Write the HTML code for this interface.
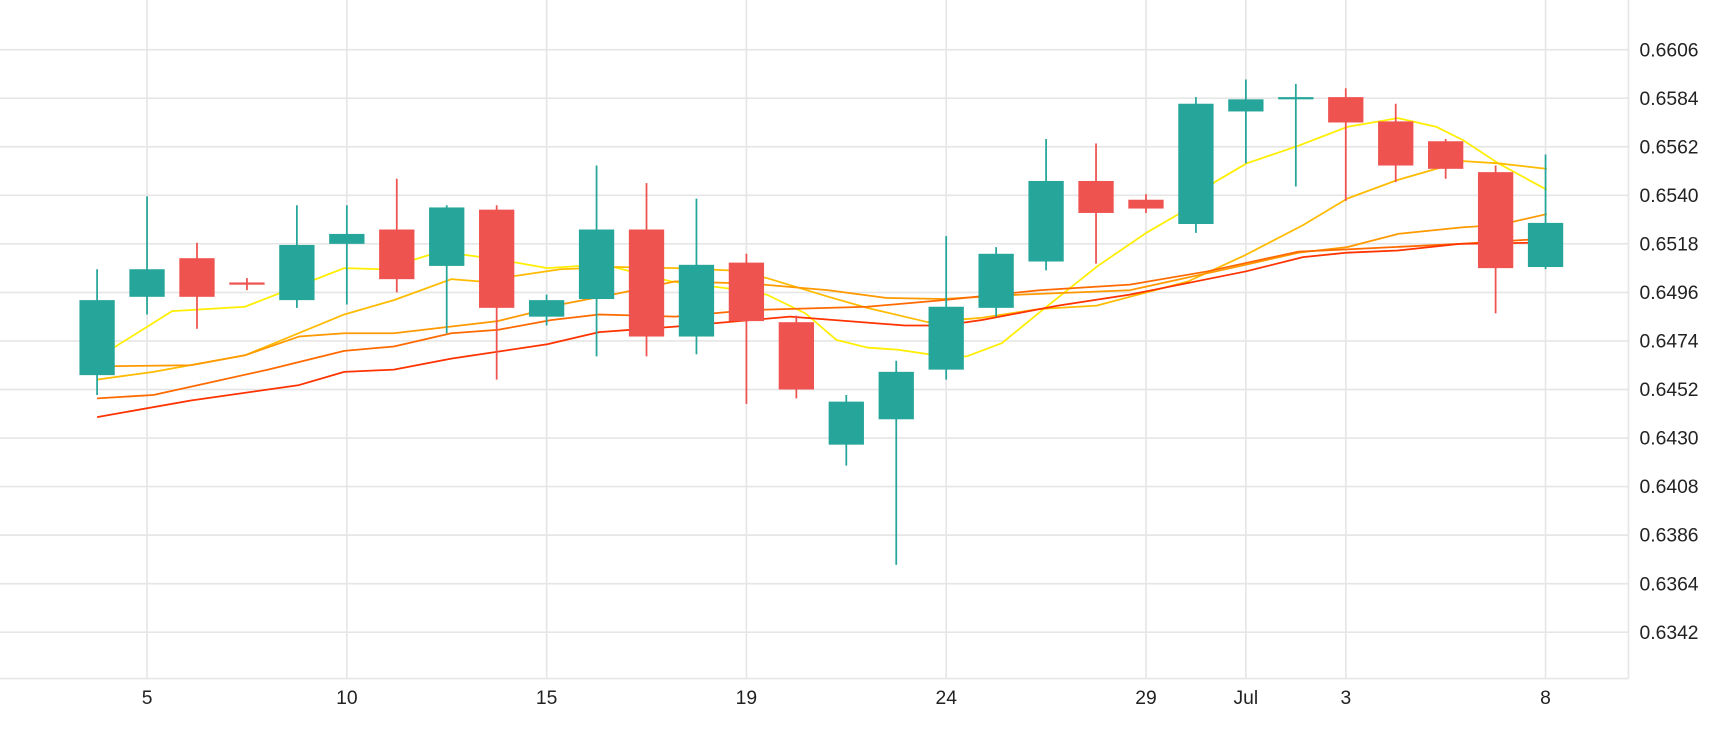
<!DOCTYPE html>
<html><head><meta charset="utf-8"><style>
html,body{margin:0;padding:0;background:#fff;}
svg{display:block;}
text{font-family:"Liberation Sans",sans-serif;fill:#222;}
</style></head><body>
<svg width="1730" height="730" viewBox="0 0 1568 661.6" xmlns="http://www.w3.org/2000/svg">
<rect width="1568" height="661.6" fill="#fff"/>
<g stroke="#e6e6e6" stroke-width="1.5">
<line x1="0" y1="45" x2="1476" y2="45"/><line x1="0" y1="89" x2="1476" y2="89"/><line x1="0" y1="133" x2="1476" y2="133"/><line x1="0" y1="177" x2="1476" y2="177"/><line x1="0" y1="221" x2="1476" y2="221"/><line x1="0" y1="265" x2="1476" y2="265"/><line x1="0" y1="309" x2="1476" y2="309"/><line x1="0" y1="353" x2="1476" y2="353"/><line x1="0" y1="397" x2="1476" y2="397"/><line x1="0" y1="441" x2="1476" y2="441"/><line x1="0" y1="485" x2="1476" y2="485"/><line x1="0" y1="529" x2="1476" y2="529"/><line x1="0" y1="573" x2="1476" y2="573"/>
<line x1="0" y1="615" x2="1476" y2="615"/>
<line x1="1476" y1="0" x2="1476" y2="615"/>
<line x1="133.3" y1="0" x2="133.3" y2="615"/><line x1="314.4" y1="0" x2="314.4" y2="615"/><line x1="495.4" y1="0" x2="495.4" y2="615"/><line x1="676.5" y1="0" x2="676.5" y2="615"/><line x1="857.6" y1="0" x2="857.6" y2="615"/><line x1="1038.7" y1="0" x2="1038.7" y2="615"/><line x1="1129.2" y1="0" x2="1129.2" y2="615"/><line x1="1219.8" y1="0" x2="1219.8" y2="615"/><line x1="1400.8" y1="0" x2="1400.8" y2="615"/>
</g>
<g font-size="17.5">
<text x="1486" y="51">0.6606</text><text x="1486" y="95">0.6584</text><text x="1486" y="139">0.6562</text><text x="1486" y="183">0.6540</text><text x="1486" y="227">0.6518</text><text x="1486" y="271">0.6496</text><text x="1486" y="315">0.6474</text><text x="1486" y="359">0.6452</text><text x="1486" y="403">0.6430</text><text x="1486" y="447">0.6408</text><text x="1486" y="491">0.6386</text><text x="1486" y="535">0.6364</text><text x="1486" y="579">0.6342</text>
</g>
<g font-size="17.5" text-anchor="middle">
<text x="133.3" y="638">5</text><text x="314.4" y="638">10</text><text x="495.4" y="638">15</text><text x="676.5" y="638">19</text><text x="857.6" y="638">24</text><text x="1038.7" y="638">29</text><text x="1129.2" y="638">Jul</text><text x="1219.8" y="638">3</text><text x="1400.8" y="638">8</text>
</g>
<g fill="none" stroke-width="1.6" stroke-linejoin="round">
<polyline stroke="#FFEE00" points="88,320 100,317 156,282 222,278 312,243 347,244 399,228 451,235 496,243 527,241 556,242 608,255 657,261 695,267 730,284 758,308 786,315 814,317 855,323 876,323 908,311 946,280 995,241 1039,211 1070,193 1101,165 1130,148 1177,132 1221,115 1267,107 1302,115 1326,127 1358,148 1402,172"/>
<polyline stroke="#FFBB00" points="88,344 139,337 222,322 312,285 357,272 409,253 434,255 508,244 560,242 612,243 661,245 695,252 751,269 786,279 841,292 890,288 942,280 994,277 1024,269 1077,255 1129,231 1181,204 1221,180 1267,163 1326,146 1358,148 1402,153"/>
<polyline stroke="#FF9900" points="88,332 173,331 222,322 271,305 312,302 357,302 451,291 496,280 508,276 560,266 612,255 681,257 751,263 803,270 855,271 925,267 1024,263 1129,240 1177,229 1221,224 1267,212 1326,206 1358,204 1402,194"/>
<polyline stroke="#FF6A00" points="88,361 139,358 243,335 312,318 357,314 409,302 451,299 500,290 543,285 612,287 681,281 786,278 855,272 942,263 1024,258 1094,246 1177,228 1221,226 1323,221 1389,217"/>
<polyline stroke="#FF3300" points="88,378 173,363 271,349 312,337 357,335 409,325 496,312 543,301 612,296 716,287 820,295 855,295 890,290 959,277 1024,267 1129,246 1181,233 1221,229 1267,227 1323,221 1389,220"/>
</g>
<g stroke="#26a69a" stroke-width="1.6">
<line x1="88" x2="88" y1="244" y2="358"/>
<line x1="133.27" x2="133.27" y1="178" y2="285"/>
<line x1="269.08" x2="269.08" y1="186" y2="279"/>
<line x1="314.35" x2="314.35" y1="186" y2="276"/>
<line x1="404.89" x2="404.89" y1="186" y2="302"/>
<line x1="495.43" x2="495.43" y1="267" y2="295"/>
<line x1="540.7" x2="540.7" y1="150" y2="323"/>
<line x1="631.24" x2="631.24" y1="180" y2="321"/>
<line x1="767.05" x2="767.05" y1="358" y2="422"/>
<line x1="812.32" x2="812.32" y1="327" y2="512"/>
<line x1="857.59" x2="857.59" y1="214" y2="344"/>
<line x1="902.86" x2="902.86" y1="224" y2="287"/>
<line x1="948.13" x2="948.13" y1="126" y2="245"/>
<line x1="1083.94" x2="1083.94" y1="88" y2="211"/>
<line x1="1129.21" x2="1129.21" y1="72" y2="148"/>
<line x1="1174.48" x2="1174.48" y1="76" y2="169"/>
<line x1="1400.83" x2="1400.83" y1="140" y2="244"/>
</g>
<g fill="#26a69a">
<rect x="72" y="272" width="32" height="68"/>
<rect x="117.27" y="244" width="32" height="25"/>
<rect x="253.08" y="222" width="32" height="50"/>
<rect x="298.35" y="212" width="32" height="9"/>
<rect x="388.89" y="188" width="32" height="53"/>
<rect x="479.43" y="272" width="32" height="15"/>
<rect x="524.7" y="208" width="32" height="63"/>
<rect x="615.24" y="240" width="32" height="65"/>
<rect x="751.05" y="364" width="32" height="39"/>
<rect x="796.32" y="337" width="32" height="43"/>
<rect x="841.59" y="278" width="32" height="57"/>
<rect x="886.86" y="230" width="32" height="49"/>
<rect x="932.13" y="164" width="32" height="73"/>
<rect x="1067.94" y="94" width="32" height="109"/>
<rect x="1113.21" y="90" width="32" height="11"/>
<rect x="1158.48" y="88" width="32" height="2"/>
<rect x="1384.83" y="202" width="32" height="40"/>
</g>
<g stroke="#ef5350" stroke-width="1.6">
<line x1="178.54" x2="178.54" y1="220" y2="298"/>
<line x1="223.81" x2="223.81" y1="252" y2="263"/>
<line x1="359.62" x2="359.62" y1="162" y2="265"/>
<line x1="450.16" x2="450.16" y1="186" y2="344"/>
<line x1="585.97" x2="585.97" y1="166" y2="323"/>
<line x1="676.51" x2="676.51" y1="230" y2="366"/>
<line x1="721.78" x2="721.78" y1="286" y2="361"/>
<line x1="993.4" x2="993.4" y1="130" y2="239"/>
<line x1="1038.67" x2="1038.67" y1="176" y2="193"/>
<line x1="1219.75" x2="1219.75" y1="80" y2="182"/>
<line x1="1265.02" x2="1265.02" y1="94" y2="165"/>
<line x1="1310.29" x2="1310.29" y1="126" y2="162"/>
<line x1="1355.56" x2="1355.56" y1="150" y2="284"/>
</g>
<g fill="#ef5350">
<rect x="162.54" y="234" width="32" height="35"/>
<rect x="207.81" y="256" width="32" height="2"/>
<rect x="343.62" y="208" width="32" height="45"/>
<rect x="434.16" y="190" width="32" height="89"/>
<rect x="569.97" y="208" width="32" height="97"/>
<rect x="660.51" y="238" width="32" height="53"/>
<rect x="705.78" y="292" width="32" height="61"/>
<rect x="977.4" y="164" width="32" height="29"/>
<rect x="1022.67" y="181" width="32" height="8"/>
<rect x="1203.75" y="88" width="32" height="23"/>
<rect x="1249.02" y="110" width="32" height="40"/>
<rect x="1294.29" y="128" width="32" height="25"/>
<rect x="1339.56" y="156" width="32" height="87"/>
</g>
</svg>
</body></html>
